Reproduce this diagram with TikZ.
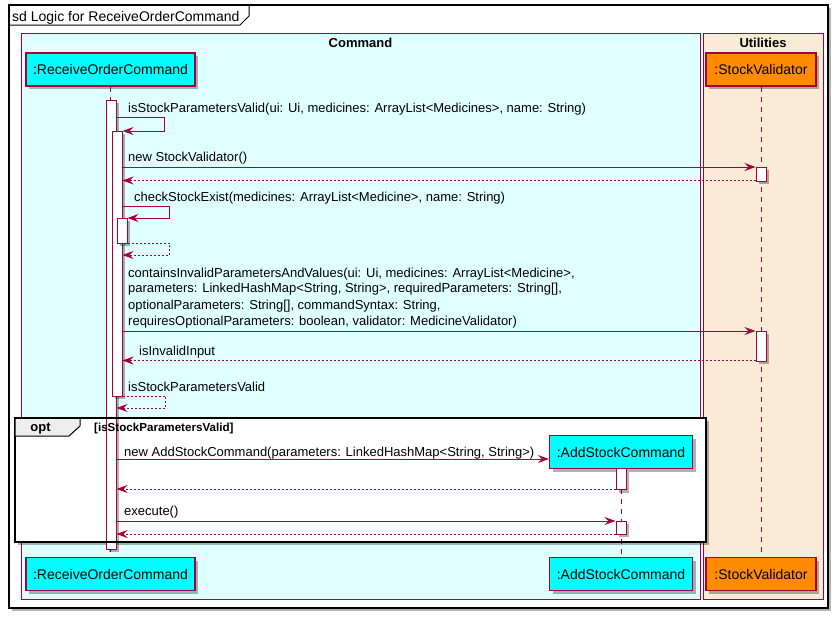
\documentclass[tikz,border=0pt]{standalone}
\usepackage{fontspec}
\setmainfont{Liberation Sans}
\usetikzlibrary{arrows.meta,shadows}
\definecolor{pb}{HTML}{A80036}
\definecolor{pcyan}{HTML}{00FFFF}
\definecolor{porange}{HTML}{FF8C00}
\definecolor{cmdbg}{HTML}{E0FFFF}
\definecolor{utlbg}{HTML}{FAEBD7}
\definecolor{tabgray}{HTML}{EEEEEE}
\tikzset{
  shd/.style={drop shadow={shadow xshift=3pt,shadow yshift=-3pt,fill=black,opacity=0.3}},
  part/.style={draw=pb, line width=1.3pt, minimum height=33pt, inner sep=0pt, shd,
    font=\fontsize{14}{16}\selectfont},
  actbar/.style={draw=pb, fill=white, line width=1pt, minimum width=10pt, inner sep=0pt, shd},
  life/.style={draw=pb, line width=1pt, dash pattern=on 5pt off 5pt},
  msg/.style={draw=pb, line width=1pt, -{Stealth[length=11pt,width=8pt,inset=4pt]}},
  ret/.style={draw=pb, line width=1pt, dash pattern=on 2pt off 2pt, -{Stealth[length=11pt,width=8pt,inset=4pt]}},
  lbl/.style={anchor=base west, inner sep=0pt, font=\fontsize{13}{15}\selectfont},
  ttl/.style={inner sep=0pt, font=\fontsize{13}{15}\selectfont\bfseries},
}
\begin{document}
\begin{tikzpicture}[x=1pt,y=-1pt]
\useasboundingbox (0,0) rectangle (840,619);
% outer sd frame
\path[fill=white, draw=black, line width=1.5pt, shd] (9,5) rectangle (828,608);
\draw[line width=1pt] (9,25) -- (240,25) -- (249,16) -- (249,5);
\node[anchor=base west, inner sep=0pt, font=\fontsize{14}{16}\selectfont] (sdt) at (12,21) {sd Logic for ReceiveOrderCommand};
% boxes
\draw[pb, fill=cmdbg, line width=1pt] (21,33) rectangle (700,599);
\draw[pb, fill=utlbg, line width=1pt] (703,33) rectangle (823,599);
\node[ttl] (cmdt) at (360.5,42.5) {Command};
\node[ttl] (utlt) at (763,42.5) {Utilities};
% opt frame fill
\path[fill=white, shd] (15,418) rectangle (706,542);
% participants
\node[part, fill=pcyan, minimum width=169pt] (roT) at (110.5,69.5) {:ReceiveOrderCommand};
\node[part, fill=pcyan, minimum width=169pt] (roBt) at (110.5,574) {:ReceiveOrderCommand};
\node[part, fill=porange, minimum width=110pt] (svT) at (761,69.5) {:StockValidator};
\node[part, fill=porange, minimum width=110pt] (svBt) at (761,574) {:StockValidator};
\node[part, fill=pcyan, minimum width=143pt] (asBt) at (621,574) {:AddStockCommand};
\node[part, fill=pcyan, minimum width=143pt] (asT) at (621,452) {:AddStockCommand};
% lifelines
\draw[life] (roT.south) -- (roBt.north);
\draw[life] (svT.south) -- (svBt.north);
\draw[life] (asT.south) -- (asBt.north);
% activation bars
\node[actbar, minimum height=449pt] (roA) at (111,324.5) {};
\node[actbar, minimum height=265pt] (roB) at (117,263.5) {};
\node[actbar, minimum height=25pt] (roC) at (122,230.5) {};
\node[actbar, minimum height=14pt] (sv1) at (761,174) {};
\node[actbar, minimum height=30pt] (sv2) at (761,346) {};
\node[actbar, minimum height=21pt] (as1) at (621,479) {};
\node[actbar, minimum height=13pt] (as2) at (621,527.5) {};
% opt frame border and tab
\draw[line width=2pt] (15,418) rectangle (706,542);
\filldraw[fill=tabgray, line width=1pt] (15,418) -- (15,436) -- (69,436) -- (80,426) -- (80,418) -- cycle;
\draw[line width=2pt] (15,418) -- (706,418);
\node[ttl] (optl) at (40.5,428.5) {opt};
\node[anchor=west, inner sep=0pt, font=\fontsize{11.6}{13}\selectfont\bfseries] (guard) at (94,428) {[isStockParametersValid]};
% messages
\draw[msg] (roA.east |- 0,117) -- ++(48,0) |- (roB.east |- 0,131);
\node[lbl] (t1) at (128,112.5) {isStockParametersValid(ui: Ui, medicines: ArrayList<Medicines>, name: String)};
\draw[msg] (roB.east |- 0,167) -- (sv1.west |- 0,167);
\node[lbl] (t2) at (128,161) {new StockValidator()};
\draw[ret] (sv1.west |- 0,180.5) -- (roB.east |- 0,180.5);
\draw[msg] (roB.east |- 0,206) -- ++(47,0) |- (roC.east |- 0,218);
\node[lbl] (t3) at (134,201) {checkStockExist(medicines: ArrayList<Medicine>, name: String)};
\draw[ret] (roC.east |- 0,243) -- ++(42,0) |- (roB.east |- 0,255);
\node[lbl] (t4a) at (128,277.5) {containsInvalidParametersAndValues(ui: Ui, medicines: ArrayList<Medicine>,};
\node[lbl] (t4b) at (128,292.5) {parameters: LinkedHashMap<String, String>, requiredParameters: String[],};
\node[lbl] (t4c) at (128,309) {optionalParameters: String[], commandSyntax: String,};
\node[lbl] (t4d) at (128,325.5) {requiresOptionalParameters: boolean, validator: MedicineValidator)};
\draw[msg] (roB.east |- 0,331) -- (sv2.west |- 0,331);
\draw[ret] (sv2.west |- 0,360.5) -- (roB.east |- 0,360.5);
\node[lbl] (t5) at (139,355.5) {isInvalidInput};
\draw[ret] (roB.east |- 0,396) -- ++(43,0) |- (roA.east |- 0,408);
\node[lbl] (t6) at (128,391) {isStockParametersValid};
\draw[msg] (roA.east |- 0,459) -- (asT.west |- 0,459);
\node[lbl] (t7) at (124,456) {new AddStockCommand(parameters: LinkedHashMap<String, String>)};
\draw[ret] (as1.west |- 0,489) -- (roA.east |- 0,489);
\draw[msg] (roA.east |- 0,521) -- (as2.west |- 0,521);
\node[lbl] (t8) at (124,515.5) {execute()};
\draw[ret] (as2.west |- 0,534) -- (roA.east |- 0,534);
\end{tikzpicture}
\end{document}
